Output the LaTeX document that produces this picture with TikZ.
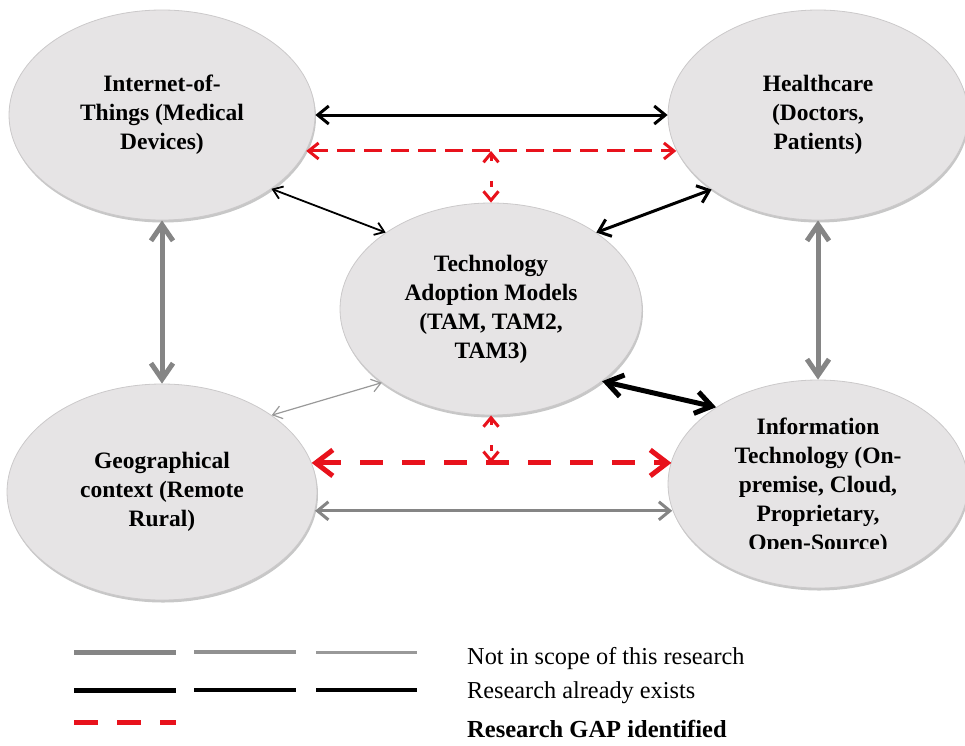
\documentclass[tikz,border=0pt]{standalone}
\usepackage{fontspec}
\setmainfont{Liberation Serif}
\usetikzlibrary{arrows.meta,shapes.geometric,shadows}
\definecolor{ellfill}{HTML}{E6E4E5}
\definecolor{ellline}{HTML}{CBC9CA}
\definecolor{gapred}{HTML}{E8121C}
\definecolor{outgray}{HTML}{858585}
\definecolor{thingray}{HTML}{999999}
\begin{document}
\begin{tikzpicture}[x=1pt,y=-1pt,
  bubble/.style={ellipse, fill=ellfill, draw=ellline, line width=0.8pt, inner sep=0pt,
    align=center, font=\bfseries\fontsize{23.5}{29}\selectfont,
    drop shadow={shadow xshift=1pt, shadow yshift=-2.5pt, fill=gray!80, opacity=0.55}},
  btxt/.style={align=center, inner sep=0pt, font=\bfseries\fontsize{23.5}{29}\selectfont},
  tipS/.style={{Straight Barb[length=9pt,width=13pt]}-{Straight Barb[length=9pt,width=13pt]}},
  tipM/.style={{Straight Barb[length=11pt,width=18pt]}-{Straight Barb[length=11pt,width=18pt]}},
  tipL/.style={{Straight Barb[length=16pt,width=22pt]}-{Straight Barb[length=16pt,width=22pt]}},
  tipR/.style={{Straight Barb[length=17pt,width=26pt]}-{Straight Barb[length=17pt,width=26pt]}},
  tipV/.style={{Straight Barb[length=9pt,width=15pt]}-{Straight Barb[length=9pt,width=15pt]}},
  legtxt/.style={anchor=base west, inner sep=0pt, font=\fontsize{24.3}{28}\selectfont},
  legline/.style={line cap=butt}
]
\useasboundingbox (0,0) rectangle (965,745);

% ellipses
\node[bubble, minimum width=306pt, minimum height=210pt] (tl) at (162,115)
  {Internet-of-\\Things (Medical\\Devices)};
\node[bubble, minimum width=300pt, minimum height=210pt] (tr) at (818,115)
  {Healthcare\\(Doctors,\\Patients)};
\node[bubble, minimum width=302pt, minimum height=212pt] (tam) at (491,309)
  {Technology\\Adoption Models\\(TAM, TAM2,\\TAM3)};
\node[bubble, minimum width=310pt, minimum height=216pt] (geo) at (162,492)
  {Geographical\\context (Remote\\Rural)};
\node[bubble, minimum width=300pt, minimum height=208pt] (it) at (818,484) {};
\begin{scope}
  \clip (650,380) rectangle (965,548);
  \node[btxt] (itt) at (818,487)
    {Information\\Technology (On-\\premise, Cloud,\\Proprietary,\\Open-Source)};
\end{scope}

% connectors
\draw[black, line width=3pt, tipM] (tl.0) -- (tr.180);
\draw[gapred, line width=3pt, dash pattern=on 18pt off 9pt,
  {Straight Barb[length=10pt,width=16pt]}-{Straight Barb[length=10pt,width=16pt]}]
  (tl.-14) -- (tr.194 |- tl.-14);
\coordinate (gapA) at (tam.north |- tl.-14);
\draw[gapred, line width=3pt, dash pattern=on 6pt off 20pt, tipV] (gapA) -- (tam.north);

\draw[black, line width=1.8pt, tipS] (tl.-34) -- (tam.144);
\draw[black, line width=3pt, tipM] (tr.-145) -- (tam.36);

\draw[outgray, line width=5pt, tipL] (tl.south) -- (geo.north);
\draw[outgray, line width=5pt, tipL] (tr.south) -- (it.north);

\draw[black, line width=5pt, tipL] (tam.-33) -- (it.143);
\draw[thingray, line width=1.2pt, tipS] (tam.-146) -- (geo.35);

\draw[gapred, line width=5pt, dash pattern=on 23pt off 19pt, tipR] (geo.11) -- (it.171.5 |- geo.11);
\coordinate (gapB) at (tam.south |- geo.11);
\draw[gapred, line width=3pt, dash pattern=on 6pt off 20pt, tipV] (tam.south) -- (gapB);

\draw[outgray, line width=3pt, tipM] (geo.-7) -- (it.190 |- geo.-7);

% legend
\draw[legline, outgray, line width=5pt] (74,652) -- (176,652);
\draw[legline, outgray!90, line width=3.5pt] (194,652) -- (296,652);
\draw[legline, thingray, line width=3pt] (316,652) -- (417,652);
\draw[legline, black, line width=5pt] (74,690) -- (176,690);
\draw[legline, black, line width=4pt] (194,690) -- (296,690);
\draw[legline, black, line width=4pt] (316,690) -- (417,690);
\draw[legline, gapred, line width=5pt, dash pattern=on 24pt off 19pt] (74,722) -- (176,722);

\node[legtxt] (l1) at (467,664) {Not in scope of this research};
\node[legtxt] (l2) at (467,698) {Research  already  exists};
\node[legtxt, font=\bfseries\fontsize{24.5}{28}\selectfont] (l3) at (467,737) {Research GAP identified};
\end{tikzpicture}
\end{document}
